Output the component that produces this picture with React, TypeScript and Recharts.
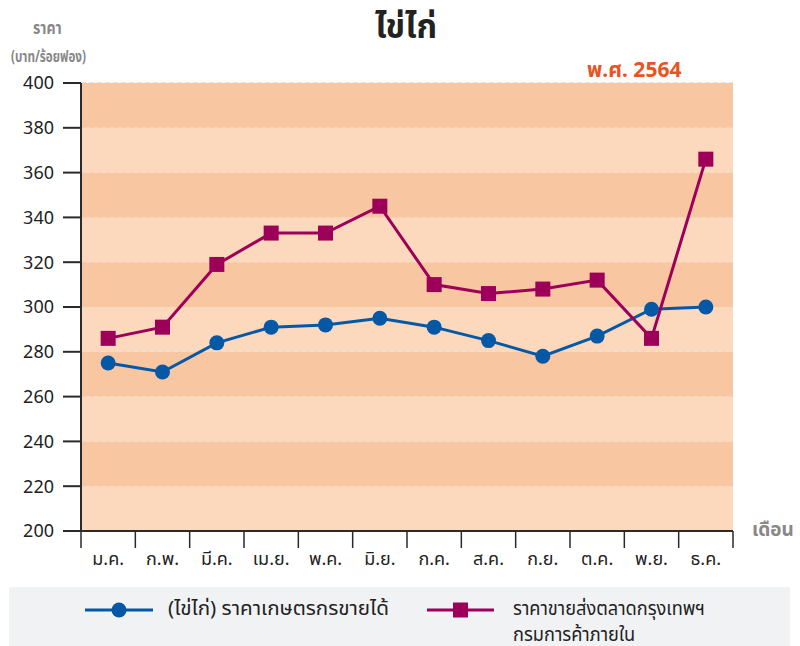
import { LineChart, Line, XAxis, YAxis, CartesianGrid, ReferenceArea } from 'recharts';

const months = ['ม.ค.', 'ก.พ.', 'มี.ค.', 'เม.ย.', 'พ.ค.', 'มิ.ย.', 'ก.ค.', 'ส.ค.', 'ก.ย.', 'ต.ค.', 'พ.ย.', 'ธ.ค.'];
const farmPrice = [275, 271, 284, 291, 292, 295, 291, 285, 278, 287, 299, 300];
const wholesalePrice = [286, 291, 319, 333, 333, 345, 310, 306, 308, 312, 286, 366];
const yTicks = [200, 220, 240, 260, 280, 300, 320, 340, 360, 380, 400];
const boundaryTicks = [0, 1, 2, 3, 4, 5, 6, 7, 8, 9, 10, 11, 12];

const BLUE = '#0558a6';
const PURPLE = '#9c0059';
const DARK_BAND = '#f9c6a2';
const LIGHT_BAND = '#fcd8bd';
const AXIS = '#2a2a2a';
const FONT = "'Noto Sans', 'Noto Sans Thai', sans-serif";

const data = months.map((m, i) => ({
  x: i + 0.5,
  month: m,
  farm: farmPrice[i],
  wholesale: wholesalePrice[i],
}));

// bands between ticks, top band dark
const bands = yTicks.slice(0, -1).map((v, i) => ({
  y1: v,
  y2: yTicks[i + 1],
  fill: (yTicks.length - 2 - i) % 2 === 0 ? DARK_BAND : LIGHT_BAND,
}));

const SquareDot = (props: any) => {
  const { cx, cy } = props;
  if (cx == null || cy == null) return null;
  return <rect x={cx - 7.5} y={cy - 7.5} width={15} height={15} fill={PURPLE} />;
};

// condensed look for the thai labels
const narrow = (sx: number): React.CSSProperties => ({
  transform: `scaleX(${sx})`,
  transformOrigin: 'left center',
  whiteSpace: 'nowrap',
});

const App = () => {
  return (
    <div style={{ position: 'absolute', left: 0, top: 0, width: 800, height: 646, overflow: 'hidden', fontFamily: FONT }}>
      <LineChart width={800} height={646} data={data} margin={{ top: 83, right: 67, left: 0, bottom: 74 }}>
        {bands.map((b) => (
          <ReferenceArea key={b.y1} y1={b.y1} y2={b.y2} fill={b.fill} fillOpacity={1} stroke="none" ifOverflow="visible" />
        ))}
        <CartesianGrid vertical={false} stroke="#dcdcdc" strokeDasharray="5 3" strokeWidth={1.5} />
        <XAxis
          xAxisId="b"
          type="number"
          dataKey="x"
          domain={[0, 12]}
          ticks={boundaryTicks}
          interval={0}
          tickFormatter={() => ''}
          tickSize={17}
          height={1}
          axisLine={{ stroke: AXIS, strokeWidth: 2 }}
          tickLine={{ stroke: AXIS, strokeWidth: 1.5 }}
        />
        <XAxis
          xAxisId="m"
          type="number"
          dataKey="x"
          domain={[0, 12]}
          ticks={data.map((d) => d.x)}
          tickFormatter={(v) => months[Math.floor(v)]}
          tickLine={false}
          axisLine={false}
          interval={0}
          height={40}
          tick={{ fill: '#222', fontSize: 18, fontFamily: FONT, dy: 12 }}
        />
        <YAxis
          type="number"
          domain={[200, 400]}
          ticks={yTicks}
          interval={0}
          width={81}
          tickSize={18}
          tickMargin={9}
          axisLine={{ stroke: AXIS, strokeWidth: 2 }}
          tickLine={{ stroke: AXIS, strokeWidth: 2 }}
          tick={{ fill: '#222', fontSize: 18, fontFamily: FONT }}
        />
        <Line
          xAxisId="m"
          dataKey="farm"
          stroke={BLUE}
          strokeWidth={3}
          dot={{ r: 7.5, fill: BLUE, stroke: 'none' }}
          isAnimationActive={false}
        />
        <Line
          xAxisId="m"
          dataKey="wholesale"
          stroke={PURPLE}
          strokeWidth={3}
          dot={<SquareDot />}
          isAnimationActive={false}
        />
      </LineChart>

      <div style={{ position: 'absolute', left: 0, width: 812, top: 3, textAlign: 'center', fontSize: 33, fontWeight: 700, color: '#222' }}>
        ไข่ไก่
      </div>
      <div style={{ position: 'absolute', left: 33, top: 16, fontSize: 17, fontWeight: 700, color: '#888', ...narrow(0.83) }}>ราคา</div>
      <div style={{ position: 'absolute', left: 11, top: 45, fontSize: 16, fontWeight: 700, color: '#888', ...narrow(0.73) }}>(บาท/ร้อยฟอง)</div>
      <div style={{ position: 'absolute', left: 587, top: 55, fontSize: 21, fontWeight: 700, color: '#e8531f', whiteSpace: 'nowrap' }}>พ.ศ. 2564</div>
      <div style={{ position: 'absolute', left: 752, top: 516, fontSize: 19, fontWeight: 700, color: '#888', whiteSpace: 'nowrap' }}>เดือน</div>

      <div style={{ position: 'absolute', left: 9, top: 587, width: 781, height: 59, background: '#f1f2f4' }}>
        <svg style={{ position: 'absolute', left: 76, top: 15 }} width={68} height={16}>
          <line x1={0} y1={8} x2={68} y2={8} stroke={BLUE} strokeWidth={3} />
          <circle cx={34} cy={8} r={7.5} fill={BLUE} />
        </svg>
        <div style={{ position: 'absolute', left: 159, top: 8, fontSize: 20, color: '#222', lineHeight: '26px', ...narrow(1.03) }}>
          (ไข่ไก่) ราคาเกษตรกรขายได้
        </div>
        <svg style={{ position: 'absolute', left: 418, top: 15 }} width={67} height={16}>
          <line x1={0} y1={8} x2={67} y2={8} stroke={PURPLE} strokeWidth={3} />
          <rect x={26} y={0.5} width={15} height={15} fill={PURPLE} />
        </svg>
        <div style={{ position: 'absolute', left: 504, top: 8, fontSize: 20, color: '#222', lineHeight: '26px', ...narrow(0.91) }}>
          ราคาขายส่งตลาดกรุงเทพฯ
          <br />
          กรมการค้าภายใน
        </div>
      </div>
    </div>
  );
};

export default App;
